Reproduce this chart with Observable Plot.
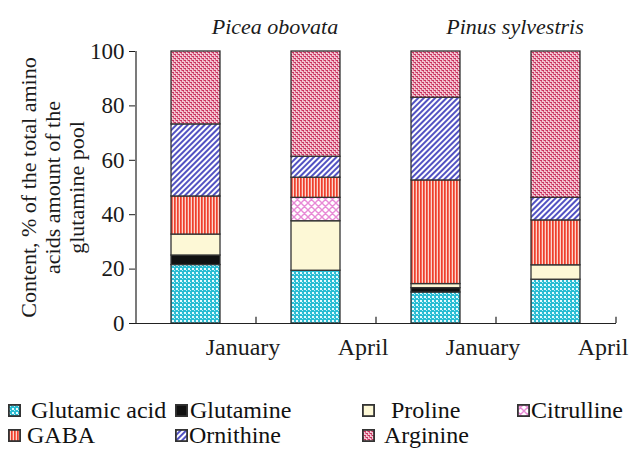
<!DOCTYPE html>
<html><head><meta charset="utf-8">
<script src="https://cdn.jsdelivr.net/npm/d3@7"></script>
<script src="https://cdn.jsdelivr.net/npm/@observablehq/plot@0.6"></script>
<style>
body{margin:0;background:#fff;font-family:"Liberation Serif","Liberation Sans",Arial,sans-serif;}
#legend{position:relative;height:71px;font-size:24px;color:#111;}
.item{position:absolute;display:flex;align-items:center;white-space:nowrap;height:24px;}
.item svg{flex:none;}
</style></head><body>
<svg width="0" height="0" style="position:absolute">
<defs>
  <pattern id="pat0" width="4" height="4" patternUnits="userSpaceOnUse">
    <rect width="4" height="4" fill="#2abdd3"/>
    <rect x="0" y="0" width="2" height="2" fill="#e6fbff"/>
    <rect x="2" y="2" width="1" height="1" fill="#bdf1f8"/>
  </pattern>
  <pattern id="pat1" width="4" height="4" patternUnits="userSpaceOnUse">
    <rect width="4" height="4" fill="#111"/>
  </pattern>
  <pattern id="pat2" width="4" height="4" patternUnits="userSpaceOnUse">
    <rect width="4" height="4" fill="#fdf8d6"/>
  </pattern>
  <pattern id="pat3" width="7" height="7" patternUnits="userSpaceOnUse">
    <rect width="7" height="7" fill="#fff"/>
    <path d="M0,0L7,7M-1,6L1,8M6,-1L8,1M0,7L7,0M-1,1L1,-1M6,8L8,6" stroke="#e88ad6" stroke-width="1.4"/>
  </pattern>
  <pattern id="pat4" width="3" height="4" patternUnits="userSpaceOnUse">
    <rect width="3" height="4" fill="#fcd6cc"/>
    <rect x="0" width="1.7" height="4" fill="#ef3f2c"/>
  </pattern>
  <pattern id="pat5" width="4" height="4" patternUnits="userSpaceOnUse" patternTransform="rotate(45)">
    <rect width="4" height="4" fill="#fff"/>
    <rect x="0" width="2" height="4" fill="#5252c2"/>
  </pattern>
  <pattern id="pat6" width="4" height="4" patternUnits="userSpaceOnUse">
    <rect width="4" height="4" fill="#f3c6d3"/>
    <rect x="0" y="0" width="2" height="1" fill="#c8345f"/>
    <rect x="2" y="2" width="2" height="1" fill="#c8345f"/>
    <rect x="1" y="1" width="1" height="1" fill="#d9577e"/>
    <rect x="3" y="3" width="1" height="1" fill="#d9577e"/>
    <rect x="3" y="0" width="1" height="1" fill="#e07a98"/>
    <rect x="1" y="2" width="1" height="1" fill="#e07a98"/>
  </pattern>
</defs>
</svg>
<div id="chart"></div>
<div id="legend"></div>
<script>
// ---- data ----
const species = ["Picea obovata", "Pinus sylvestris"];
const months = ["January", "April"];
const aminoAcids = ["Glutamic acid", "Glutamine", "Proline", "Citrulline", "GABA", "Ornithine", "Arginine"];
const piceaJanuary = [21.5, 3.5, 7.7, 0, 14.0, 26.5, 26.8];
const piceaApril   = [19.4, 0, 18.2, 8.6, 7.4, 7.7, 38.7];
const pinusJanuary = [11.4, 1.6, 1.5, 0, 38.1, 30.4, 17.0];
const pinusApril   = [16.1, 0, 5.3, 0, 16.5, 8.3, 53.8];
const yTicks = [0, 20, 40, 60, 80, 100];
const yLabel = "Content, % of the total amino\nacids amount of the\nglutamine pool";

// ---- build table ----
const bars = [
  {id: "b0", species: species[0], month: months[0], values: piceaJanuary},
  {id: "b1", species: species[0], month: months[1], values: piceaApril},
  {id: "b2", species: species[1], month: months[0], values: pinusJanuary},
  {id: "b3", species: species[1], month: months[1], values: pinusApril}
];
const barIds = bars.map(b => b.id);
const rows = [];
bars.forEach(b => aminoAcids.forEach((a, j) => rows.push({bar: b.id, amino: a, value: b.values[j], fill: `url(#pat${j})`})));
const titles = species.map((s, i) => ({species: s, bar: bars.find(b => b.species === s && b.month === months[0]).id}));

const FONT = "'Liberation Serif', 'Liberation Sans', Arial, sans-serif";
const STEP = 120;

const plot = Plot.plot({
  width: 639, height: 380,
  marginLeft: 135, marginRight: 23, marginTop: 51, marginBottom: 57,
  style: {fontFamily: FONT, fontSize: "23px", color: "#1a1a1a", background: "#fff", overflow: "visible"},
  x: {domain: barIds, paddingInner: 0.592, paddingOuter: 0.296, axis: null},
  y: {domain: [0, 100], ticks: yTicks, tickSize: 6, tickPadding: 5, label: null},
  color: {type: "identity"},
  marks: [
    Plot.barY(rows, Plot.stackY({x: "bar", y: "value", fill: "fill", stroke: "#333", strokeWidth: 1.3})),
    Plot.ruleY([0], {stroke: "#222", strokeWidth: 1.2}),
    Plot.ruleX([barIds[0]], {x: d => d, dx: -STEP / 2, y1: () => 0, y2: () => 100, stroke: "#222", strokeWidth: 1.2}),
    Plot.ruleX(barIds, {x: d => d, dx: STEP / 2, y1: () => 0, y2: () => 2.3, stroke: "#222", strokeWidth: 1.2}),
    Plot.text(bars, {x: "id", text: "month", frameAnchor: "bottom", dy: 31, dx: 47, fontSize: 24, fill: "#1a1a1a"}),
    Plot.text(titles, {x: "bar", text: "species", frameAnchor: "top", dy: -33, dx: 79, fontSize: 22, fontStyle: "italic", fill: "#1a1a1a"}),
    Plot.text([yLabel], {text: d => d, frameAnchor: "left", textAnchor: "middle", dx: -83, rotate: -90, lineHeight: 1.09, fontSize: 22, fill: "#1a1a1a"})
  ]
});
document.getElementById("chart").appendChild(plot);

// ---- legend ----
const legendLayout = [
  {left: 8, top: 30, gap: 10}, {left: 175, top: 30, gap: 2}, {left: 362, top: 30, gap: 16}, {left: 517, top: 30, gap: 1},
  {left: 8, top: 55, gap: 6}, {left: 175, top: 55, gap: 1}, {left: 362, top: 55, gap: 9}
];
const legend = d3.select("#legend");
aminoAcids.forEach((a, j) => {
  const L = legendLayout[j];
  const item = legend.append("div").attr("class", "item").style("left", L.left + "px").style("top", (L.top - 12) + "px");
  const sw = item.append("svg").attr("width", 13).attr("height", 13).style("margin-right", L.gap + "px");
  sw.append("rect").attr("x", 0.9).attr("y", 0.9).attr("width", 11.2).attr("height", 11.2)
    .attr("fill", `url(#pat${j})`).attr("stroke", "#333").attr("stroke-width", 1.8);
  item.append("span").text(a);
});
</script>
</body></html>
